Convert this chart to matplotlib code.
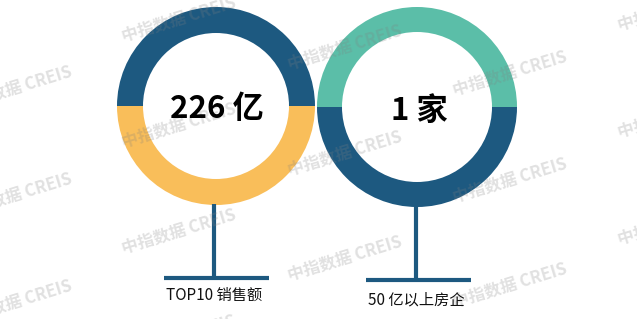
import matplotlib
matplotlib.use("Agg")
import matplotlib.pyplot as plt

plt.rcParams['font.family'] = ['Noto Sans CJK SC', 'DejaVu Sans']

# Indicator cards
labels = ["TOP10 销售额", "50 亿以上房企"]
amounts = [226, 1]
units = ["亿", "家"]
ring_shares = [[50, 50], [50, 50]]
ring_colors = [["#1D5980", "#F9BE5A"], ["#5BBEA8", "#1D5980"]]

W, H = 637, 319
fig = plt.figure(figsize=(W / 100, H / 100), dpi=100)
ax = fig.add_axes([0, 0, 1, 1])


def py(y):
    """Convert a top-down pixel row into the axes' upward y coordinate."""
    return H - y


# Layout of each card (pixel units, top-down rows)
ring_cx = [216, 417]
ring_cy = [106, 107]
ring_r = [99, 100]
ring_w = [26, 25]
stem_x = [214, 416]
stem_top = [204, 206]
base_y = [278, 280]
base_x = [(164, 269), (366, 471)]
label_y = [295, 300]
value_pos = [(217, 109), (419, 111)]
stem_color = "#1D5980"

for i in range(len(labels)):
    ax.pie(ring_shares[i], colors=ring_colors[i], startangle=0, counterclock=True,
           center=(ring_cx[i], py(ring_cy[i])), radius=ring_r[i], frame=True,
           wedgeprops=dict(width=ring_w[i], linewidth=0))
    ax.plot([stem_x[i], stem_x[i]], [py(stem_top[i]), py(base_y[i])],
            color=stem_color, lw=3.0, solid_capstyle='butt', zorder=3)
    ax.plot(list(base_x[i]), [py(base_y[i]), py(base_y[i])],
            color=stem_color, lw=3.0, solid_capstyle='butt', zorder=3)
    ax.text(stem_x[i], py(label_y[i]), labels[i], ha='center', va='center',
            fontsize=11, color='#111111', zorder=5)
    vx, vy = value_pos[i]
    ax.text(vx, py(vy), f"{amounts[i]} {units[i]}", ha='center', va='center',
            fontsize=22.5, fontweight='bold', color='black', zorder=5)

# Watermark grid
wm_cols = [15, 179, 345, 510, 675]
wm_rows = [[-19, 88, 195, 302], [19, 125, 231, 337], [47, 153, 258], [73, 180, 285], [8, 115, 222, 329]]
for cx, rows in zip(wm_cols, wm_rows):
    for cy in rows:
        ax.text(cx, py(cy), "中指数据 CREIS", ha='center', va='center', rotation=17,
                rotation_mode='anchor', fontsize=12, fontweight='bold',
                color='#808080', alpha=0.24, zorder=4)

ax.set_xlim(0, W)
ax.set_ylim(0, H)
ax.set_aspect('auto')
ax.axis('off')
fig.savefig("out.png", dpi=100, facecolor='white')
